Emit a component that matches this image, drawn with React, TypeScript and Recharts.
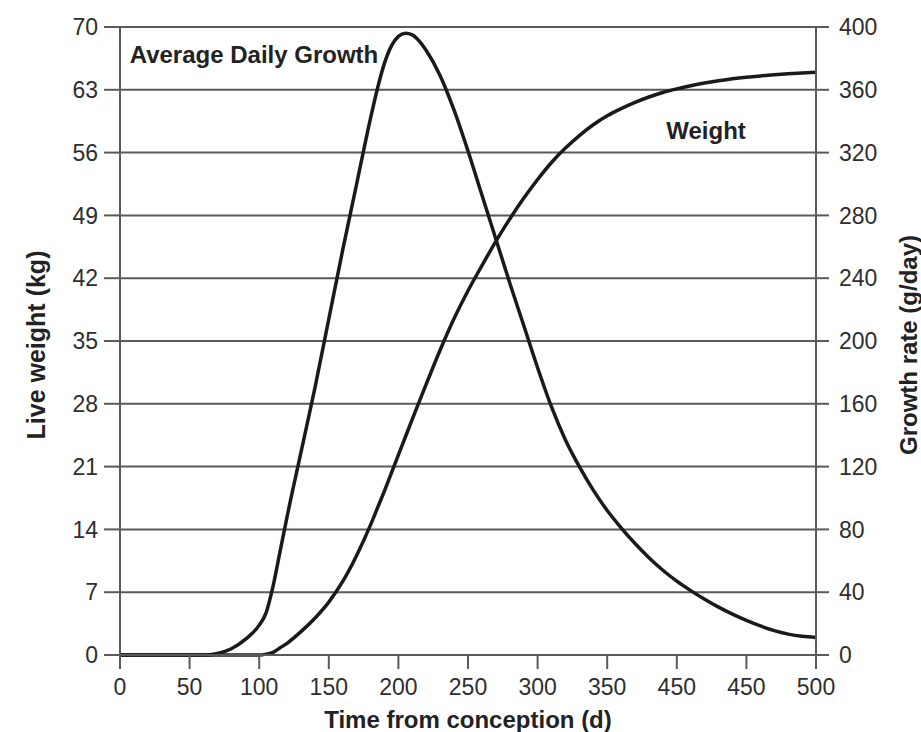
import React from 'react';
import { CartesianGrid, Line, LineChart, ReferenceDot, XAxis, YAxis } from 'recharts';

// days from conception
const days = [
  0, 20, 40, 60, 70, 80, 90, 100, 105, 110, 115, 120, 130, 140, 150, 160, 170, 180, 185, 190, 195, 200, 205,
  210, 215, 220, 230, 240, 250, 260, 270, 280, 290, 300, 310, 320, 330, 340, 350, 360, 370, 380, 390, 400, 410,
  420, 430, 440, 450, 460, 470, 480, 490, 500,
];

// average daily growth, g/day (right axis)
const growthRate = [
  0, 0, 0, 0, 1, 4, 10, 19, 27, 44, 66, 88, 129, 170, 214, 258, 300, 342, 361, 377, 388, 394, 396, 395, 391,
  385, 369, 347, 321, 293, 265, 237, 210, 183, 158, 137, 120, 105, 92, 81, 71, 62, 54, 47, 41, 35.5, 30.5, 26,
  22, 18.5, 15.5, 13.3, 11.9, 11.2,
];

// live weight, kg (left axis)
const liveWeight = [
  0, 0, 0, 0, 0, 0, 0, 0, 0.1, 0.3, 0.8, 1.3, 2.6, 4.1, 5.9, 8.2, 11.1, 14.5, 16.4, 18.3, 20.3, 22.3, 24.3,
  26.3, 28.25, 30.2, 34.0, 37.5, 40.6, 43.4, 46.1, 48.6, 50.9, 53.0, 54.9, 56.5, 57.9, 59.1, 60.1, 60.9, 61.6,
  62.2, 62.7, 63.1, 63.45, 63.75, 64.0, 64.22, 64.4, 64.55, 64.68, 64.79, 64.88, 64.95,
];

const xTicks = [0, 50, 100, 150, 200, 250, 300, 350, 400, 450, 500];
// the original figure prints 450 twice
const xTickLabels = ['0', '50', '100', '150', '200', '250', '300', '350', '450', '450', '500'];
const weightTicks = [0, 7, 14, 21, 28, 35, 42, 49, 56, 63, 70];
const rateTicks = [0, 40, 80, 120, 160, 200, 240, 280, 320, 360, 400];

const data = days.map((t, i) => ({ t, rate: growthRate[i], weight: liveWeight[i] }));

const FONT = '"Liberation Sans", Arial, Helvetica, sans-serif';
const GRID = '#5a5a5a';
const INK = '#1a1a1a';

const tickStyle = { fontSize: 23, fill: '#2e2e2e', fontFamily: FONT };

const RotatedTitle = ({ viewBox, text, dx, size }: any) => {
  const cx = viewBox.x + dx;
  const cy = viewBox.y + viewBox.height / 2 + 4;
  return (
    <text
      x={cx}
      y={cy}
      transform={`rotate(-90, ${cx}, ${cy})`}
      textAnchor="middle"
      dominantBaseline="central"
      fontFamily={FONT}
      fontWeight="bold"
      fontSize={size}
      fill="#222"
    >
      {text}
    </text>
  );
};

const Note = ({ viewBox, text, anchor }: any) => (
  <text
    x={viewBox.x + viewBox.width / 2}
    y={viewBox.y + viewBox.height / 2}
    textAnchor={anchor}
    dominantBaseline="central"
    fontFamily={FONT}
    fontWeight="bold"
    fontSize={24}
    fill="#222"
  >
    {text}
  </text>
);

export default function App() {
  return (
    <div style={{ position: 'absolute', left: 0, top: 0, width: 921, height: 732, background: '#fff' }}>
      <LineChart width={921} height={732} data={data} margin={{ top: 27, right: 0, bottom: 0, left: 0 }}>
        <CartesianGrid vertical={false} yAxisId="left" stroke={GRID} strokeWidth={2} />
        <XAxis
          dataKey="t"
          type="number"
          domain={[0, 500]}
          ticks={xTicks}
          tickFormatter={(v, i) => xTickLabels[i]}
          height={77}
          stroke={GRID}
          strokeWidth={2}
          tickSize={14}
          tickMargin={10}
          tick={tickStyle}
          label={{
            value: 'Time from conception (d)',
            position: 'insideBottom',
            offset: 4,
            style: { fontSize: 24, fontWeight: 'bold', fill: '#222', fontFamily: FONT },
          }}
        />
        <YAxis
          yAxisId="left"
          orientation="left"
          width={120}
          domain={[0, 70]}
          ticks={weightTicks}
          stroke={GRID}
          strokeWidth={2}
          tickSize={16}
          tickMargin={6}
          tick={tickStyle}
          label={{ content: (p: any) => <RotatedTitle {...p} text="Live weight (kg)" dx={36} size={25} /> }}
        />
        <YAxis
          yAxisId="right"
          orientation="right"
          width={105}
          domain={[0, 400]}
          ticks={rateTicks}
          stroke={GRID}
          strokeWidth={2}
          tickSize={13}
          tickMargin={10}
          tick={tickStyle}
          label={{ content: (p: any) => <RotatedTitle {...p} text="Growth rate (g/day)" dx={92} size={24} /> }}
        />
        <Line
          yAxisId="right"
          dataKey="rate"
          type="monotone"
          stroke={INK}
          strokeWidth={3.5}
          dot={false}
          isAnimationActive={false}
        />
        <Line
          yAxisId="left"
          dataKey="weight"
          type="monotone"
          stroke={INK}
          strokeWidth={3.5}
          dot={false}
          isAnimationActive={false}
        />
        <ReferenceDot
          yAxisId="left"
          x={7}
          y={66.9}
          r={0}
          fill="none"
          stroke="none"
          label={{ content: (p: any) => <Note {...p} text="Average Daily Growth" anchor="start" /> }}
        />
        <ReferenceDot
          yAxisId="left"
          x={421}
          y={58.5}
          r={0}
          fill="none"
          stroke="none"
          label={{ content: (p: any) => <Note {...p} text="Weight" anchor="middle" /> }}
        />
      </LineChart>
    </div>
  );
}
